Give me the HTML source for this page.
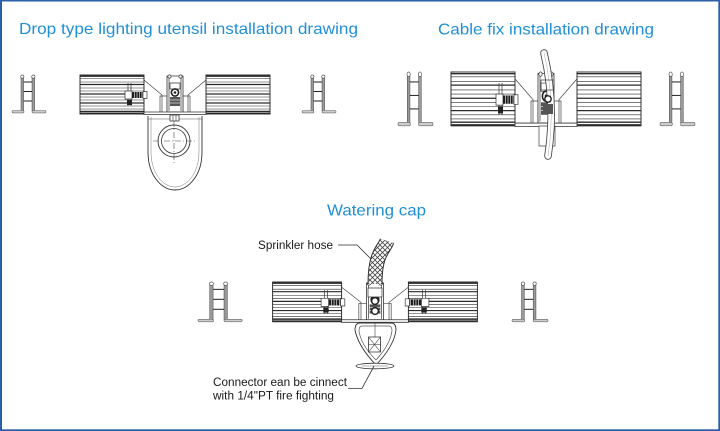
<!DOCTYPE html>
<html>
<head>
<meta charset="utf-8">
<style>
html,body{margin:0;padding:0;background:#fff;}
svg{display:block;}
svg *{vector-effect:non-scaling-stroke;}
.t{font-family:"Liberation Sans",Arial,sans-serif;fill:#1f8fd6;font-size:16px;}
.l{font-family:"Liberation Sans",Arial,sans-serif;fill:#1a1a1a;font-size:11.5px;}
</style>
</head>
<body>
<svg width="720" height="431" viewBox="0 0 720 431" xmlns="http://www.w3.org/2000/svg">
<defs>
  <pattern id="xh" width="5" height="5" patternUnits="userSpaceOnUse">
    <rect width="5" height="5" fill="#fff"/>
    <path d="M0,0 L5,5 M5,0 L0,5" stroke="#444" stroke-width="0.8"/>
  </pattern>
  <g id="block">
    <rect x="0" y="0" width="64" height="39" fill="#fff" stroke="#333" stroke-width="1"/>
    <g stroke="#2a2a2a">
      <line x1="0" y1="1.2" x2="64" y2="1.2" stroke-width="1.4"/>
      <line x1="0" y1="3.5" x2="64" y2="3.5" stroke-width="0.6"/>
      <line x1="0" y1="7" x2="64" y2="7" stroke-width="0.6"/>
      <line x1="0" y1="9.5" x2="64" y2="9.5" stroke-width="1.2"/>
      <line x1="0" y1="13" x2="64" y2="13" stroke-width="0.6"/>
      <line x1="0" y1="16" x2="64" y2="16" stroke-width="0.6"/>
      <line x1="0" y1="19" x2="64" y2="19" stroke-width="1.2"/>
      <line x1="0" y1="22" x2="64" y2="22" stroke-width="0.6"/>
      <line x1="0" y1="25" x2="64" y2="25" stroke-width="0.6"/>
      <line x1="0" y1="28" x2="64" y2="28" stroke-width="1.2"/>
      <line x1="0" y1="31" x2="64" y2="31" stroke-width="0.6"/>
      <line x1="0" y1="34" x2="64" y2="34" stroke-width="0.6"/>
      <line x1="0" y1="36.4" x2="64" y2="36.4" stroke-width="1.4"/>
      <line x1="0" y1="38.3" x2="64" y2="38.3" stroke-width="1.4"/>
    </g>
  </g>
  <g id="bolt">
    <line x1="48" y1="8" x2="48" y2="31" stroke="#333" stroke-width="0.7"/>
    <line x1="51" y1="8" x2="51" y2="31" stroke="#333" stroke-width="0.7"/>
    <rect x="45" y="16" width="7" height="8" fill="#fff" stroke="#333" stroke-width="0.7"/>
    <rect x="52" y="17" width="11" height="6" fill="#1e1e1e"/>
    <g stroke="#fff" stroke-width="0.6">
      <line x1="54.5" y1="17" x2="54.5" y2="23"/>
      <line x1="57" y1="17" x2="57" y2="23"/>
      <line x1="59.5" y1="17" x2="59.5" y2="23"/>
      <line x1="62" y1="17" x2="62" y2="23"/>
    </g>
    <rect x="63" y="16.5" width="4" height="7" fill="#fff" stroke="#333" stroke-width="0.7"/>
    <rect x="47" y="25" width="5" height="5" fill="#222"/>
  </g>
  <g id="center">
    <polyline points="-31,5 -13,20 -13,38" fill="none" stroke="#444" stroke-width="0.7"/>
    <polyline points="31,5 13,20 13,38" fill="none" stroke="#444" stroke-width="0.7"/>
    <rect x="-15" y="21" width="7" height="17" fill="none" stroke="#444" stroke-width="0.7"/>
    <rect x="8" y="21" width="7" height="17" fill="none" stroke="#444" stroke-width="0.7"/>
    <rect x="-8" y="1" width="16" height="36" fill="#fff" stroke="#333" stroke-width="0.8"/>
    <g stroke="#333" stroke-width="0.7">
      <line x1="-6" y1="2" x2="-6" y2="36"/>
      <line x1="6" y1="2" x2="6" y2="36"/>
    </g>
    <circle cx="-5.5" cy="1.5" r="1.6" fill="#fff" stroke="#333" stroke-width="0.7"/>
    <circle cx="5.5" cy="1.5" r="1.6" fill="#fff" stroke="#333" stroke-width="0.7"/>
    <rect x="-5" y="8" width="10" height="6" fill="#fff" stroke="#333" stroke-width="0.7"/>
    <circle cx="0" cy="17.5" r="3.6" fill="#fff" stroke="#222" stroke-width="1.6"/>
    <circle cx="0" cy="17.5" r="1.3" fill="#222"/>
    <rect x="-5" y="22" width="10" height="9" fill="#555"/>
    <g stroke="#fff" stroke-width="0.6">
      <line x1="-5" y1="25" x2="5" y2="25"/>
      <line x1="-5" y1="28" x2="5" y2="28"/>
    </g>
    <rect x="-31" y="37" width="62" height="2.5" fill="#fff" stroke="#333" stroke-width="0.8"/>
  </g>
  <g id="rail">
    <rect x="9" y="2" width="2.6" height="34" fill="#999" stroke="#444" stroke-width="0.5"/>
    <rect x="20" y="2" width="2.6" height="34" fill="#999" stroke="#444" stroke-width="0.5"/>
    <circle cx="10.3" cy="1.6" r="1.6" fill="#fff" stroke="#555" stroke-width="0.7"/>
    <circle cx="21.3" cy="1.6" r="1.6" fill="#fff" stroke="#555" stroke-width="0.7"/>
    <g stroke="#222" stroke-width="1">
      <line x1="11.6" y1="7" x2="20" y2="7"/>
      <line x1="11.6" y1="16.5" x2="20" y2="16.5"/>
      <line x1="11.6" y1="26" x2="20" y2="26"/>
    </g>
    <rect x="0" y="35.5" width="12" height="2.4" rx="1.2" fill="#ccc" stroke="#666" stroke-width="0.6"/>
    <rect x="20" y="35.5" width="14" height="2.4" rx="1.2" fill="#ccc" stroke="#666" stroke-width="0.6"/>
  </g>
</defs>

<rect x="0" y="0" width="720" height="431" fill="#fff"/>

<!-- Titles -->
<text class="t" x="19" y="34" textLength="339" lengthAdjust="spacingAndGlyphs">Drop type lighting utensil installation drawing</text>
<text class="t" x="438" y="34.5" textLength="216" lengthAdjust="spacingAndGlyphs">Cable fix installation drawing</text>
<text class="t" x="327" y="215.5" textLength="99" lengthAdjust="spacingAndGlyphs">Watering cap</text>

<!-- Drawing 1 -->
<use href="#rail" transform="translate(12,75)"/>
<use href="#rail" transform="translate(302,75)"/>
<path d="M148,116 L148,152 C148,176 162,190 175,190 C188,190 202,176 202,152 L202,116" fill="#fff" stroke="#333" stroke-width="0.9"/>
<path d="M151,117 L151,152 C151,173 163,187 175,187 C187,187 199,173 199,152 L199,117" fill="none" stroke="#777" stroke-width="0.5"/>
<line x1="148" y1="119" x2="202" y2="119" stroke="#555" stroke-width="0.6"/>
<circle cx="174" cy="141" r="16" fill="#fff" stroke="#333" stroke-width="0.9"/>
<circle cx="174" cy="141" r="12.5" fill="none" stroke="#333" stroke-width="0.8"/>
<line x1="153" y1="141" x2="195" y2="141" stroke="#444" stroke-width="0.6" stroke-dasharray="6 2 1 2"/>
<line x1="174" y1="121" x2="174" y2="165" stroke="#444" stroke-width="0.6" stroke-dasharray="6 2 1 2"/>
<g transform="translate(175,75)">
  <use href="#block" transform="translate(-95,0)"/>
  <use href="#block" transform="translate(31,0)"/>
  <use href="#bolt" transform="translate(-95,0)"/>
  <use href="#center"/>
</g>
<rect x="170" y="115" width="9" height="6" fill="#fff" stroke="#333" stroke-width="0.8"/>
<line x1="173" y1="115" x2="173" y2="121" stroke="#333" stroke-width="0.6"/>
<line x1="176" y1="115" x2="176" y2="121" stroke="#333" stroke-width="0.6"/>

<!-- Drawing 2 -->
<use href="#rail" transform="translate(398,72) scale(1.03,1.42)"/>
<use href="#rail" transform="translate(660,72) scale(1.03,1.42)"/>
<g transform="translate(546,72) scale(1,1.38)">
  <use href="#block" transform="translate(-95,0)"/>
  <use href="#block" transform="translate(31,0)"/>
  <use href="#bolt" transform="translate(-95,0)"/>
  <use href="#center"/>
</g>
<rect x="539" y="126" width="16" height="20" fill="#fff" stroke="#444" stroke-width="0.7"/>
<path d="M544,53 Q556,104 548,156" fill="none" stroke="#444" stroke-width="7.5" stroke-linecap="round"/>
<path d="M544,53 Q556,104 548,156" fill="none" stroke="#fff" stroke-width="5.8" stroke-linecap="round"/>
<path d="M544,53 Q556,104 548,156" fill="none" stroke="#aaa" stroke-width="0.5"/>
<rect x="541" y="80" width="13" height="10" fill="none" stroke="#444" stroke-width="0.7"/>
<circle cx="548" cy="99" r="3.2" fill="#fff" stroke="#222" stroke-width="1.4"/>
<rect x="543" y="104" width="10" height="10" fill="#555"/>

<!-- Drawing 3 -->
<use href="#rail" transform="translate(198,282) scale(1.3,1.05)"/>
<use href="#rail" transform="translate(512,282) scale(1.06,1.05)"/>
<g transform="translate(375,282) scale(1.078,1.02)">
  <use href="#block" transform="translate(-95,0)"/>
  <use href="#block" transform="translate(31,0)"/>
  <use href="#bolt" transform="translate(-95,0)"/>
  <use href="#bolt" transform="translate(95,0) scale(-1,1)"/>
  <use href="#center"/>
</g>
<path d="M387,241 C384,250 375,252 375,284" fill="none" stroke="#333" stroke-width="15"/>
<path d="M387,241 C384,250 375,252 375,284" fill="none" stroke="url(#xh)" stroke-width="13"/>
<rect x="368" y="288" width="14" height="9" fill="#fff" stroke="#333" stroke-width="0.7"/>
<circle cx="375" cy="301" r="3.4" fill="#fff" stroke="#222" stroke-width="1.5"/>
<circle cx="375" cy="311" r="3.4" fill="#fff" stroke="#222" stroke-width="1.5"/>
<path d="M360,323 L391,323 Q396,323 396,330 Q394,346 376,365 Q358,346 355,330 Q355,323 360,323 Z" fill="#fff" stroke="#333" stroke-width="0.9"/>
<path d="M362,326 L389,326 Q392,326 392,331 Q390,345 376,360 Q361,345 359,331 Q359,326 362,326 Z" fill="none" stroke="#555" stroke-width="0.7"/>
<line x1="375" y1="323" x2="375" y2="337" stroke="#444" stroke-width="0.6"/>
<rect x="368.5" y="337" width="12" height="15" fill="#fff" stroke="#333" stroke-width="0.8"/>
<line x1="368.5" y1="337" x2="380.5" y2="352" stroke="#333" stroke-width="0.6"/>
<line x1="380.5" y1="337" x2="368.5" y2="352" stroke="#333" stroke-width="0.6"/>
<line x1="368.5" y1="344.5" x2="380.5" y2="344.5" stroke="#333" stroke-width="0.5"/>
<ellipse cx="375" cy="366" rx="19" ry="2.8" fill="#fff" stroke="#333" stroke-width="0.8"/>
<line x1="362" y1="366" x2="388" y2="366" stroke="#666" stroke-width="0.5"/>

<!-- Labels -->
<text class="l" x="258" y="249" textLength="75" lengthAdjust="spacingAndGlyphs">Sprinkler hose</text>
<polyline points="338,245 357,245 371,259" fill="none" stroke="#333" stroke-width="0.8"/>
<text class="l" x="213" y="386" textLength="134" lengthAdjust="spacingAndGlyphs">Connector ean be cinnect</text>
<text class="l" x="213" y="399.5" textLength="121" lengthAdjust="spacingAndGlyphs">with 1/4"PT fire fighting</text>
<polyline points="348,388.5 362,388.5 374,366" fill="none" stroke="#333" stroke-width="0.8"/>

<!-- Border -->
<rect x="0" y="0" width="2" height="431" fill="#2b5fa8"/>
<rect x="0" y="0" width="720" height="1.5" fill="#2b5fa8"/>
<rect x="718.3" y="0" width="1.7" height="431" fill="#2b5fa8"/>
<rect x="0" y="429.3" width="720" height="1.7" fill="#2b5fa8"/>
</svg>
</body>
</html>
